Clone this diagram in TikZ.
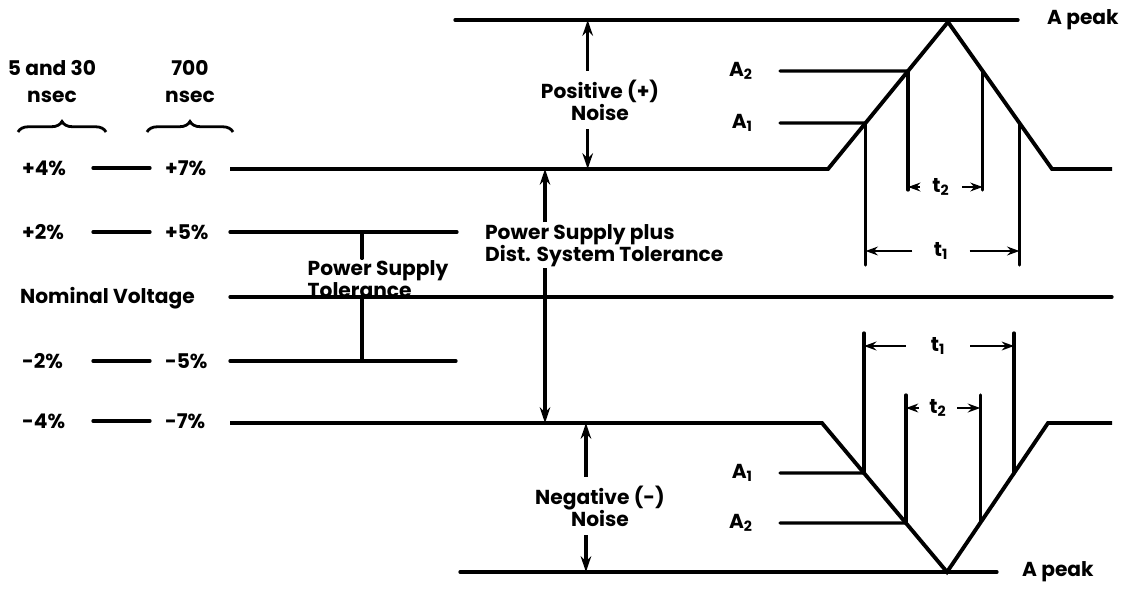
\documentclass[tikz,border=0pt]{standalone}
\usepackage{fontspec}
\setmainfont{Poppins}
\usetikzlibrary{
    arrows.meta,
    calc,
    positioning,
    decorations.pathreplacing
}

\tikzset{
    lvl/.style={line width=1.9pt, line cap=round},
    pulse/.style={line width=2.2pt, line join=miter},
    lab/.style={font=\bfseries\fontsize{11.5}{12.5}\selectfont, inner sep=1pt},
    dimarrow/.style={line width=1.7pt, -{Stealth[length=7pt,width=5pt]}},
    bigarrow/.style={line width=2pt, -{Stealth[length=9pt,width=6pt]}},
}

\begin{document}
\begin{tikzpicture}[x=0.02cm,y=-0.02cm]
\useasboundingbox (0,0) rectangle (1126,592);

% Column heads
\node[lab] (h1) at (52,68) {5 and 30};
\node[lab] (h1b) at (52,97) {nsec};
\node[lab] (h2) at (190,68) {700};
\node[lab] (h2b) at (190,97) {nsec};
\draw[line width=1.6pt, decorate, decoration={brace, amplitude=6pt}] (18,132) -- (106,132);
\draw[line width=1.6pt, decorate, decoration={brace, amplitude=6pt}] (147,132) -- (233,132);

% Row labels
\node[lab, anchor=west] (p4) at (20,168) {+4\%};
\node[lab, anchor=west] (p7) at (163,168) {+7\%};
\node[lab, anchor=west] (p2) at (20,232) {+2\%};
\node[lab, anchor=west] (p5) at (163,232) {+5\%};
\node[lab, anchor=west] (nom) at (18,298) {Nominal Voltage};
\node[lab, anchor=west] (m2) at (20,361) {-2\%};
\node[lab, anchor=west] (m5) at (163,361) {-5\%};
\node[lab, anchor=west] (m4) at (20,421) {-4\%};
\node[lab, anchor=west] (m7) at (163,421) {-7\%};
\foreach \y in {168,232,361,421}
    \draw[lvl] (93,\y) -- (150,\y);

% Levels
\coordinate (top) at (455,20);
\coordinate (bot) at (460,572);
\draw[lvl] (top) -- (1018,20);
\node[lab, anchor=west] (apk1) at (1045,20) {A peak};
\draw[lvl] (230,232) -- (457,232);
\draw[lvl] (230,297) -- (1112,297);
\draw[lvl] (230,361) -- (456,361);
\draw[lvl] (bot) -- (997,572);
\node[lab, anchor=west] (apk2) at (1020,572) {A peak};

% Positive pulse
\coordinate (ps) at (828,169);
\coordinate (pk) at (948,22);
\coordinate (pe) at (1052,169);
\draw[pulse] (230,169) -- (ps) -- (pk) -- (pe) -- (1112,169);
\coordinate (ta1l) at ($(ps)!0.313!(pk)$);
\coordinate (ta2l) at ($(ps)!0.667!(pk)$);
\coordinate (ta2r) at ($(pk)!0.333!(pe)$);
\coordinate (ta1r) at ($(pk)!0.687!(pe)$);
\node[lab, anchor=east] (a1t) at (755,123) {A\textsubscript{1}};
\node[lab, anchor=east] (a2t) at (755,71) {A\textsubscript{2}};
\draw[lvl, shorten <=0.5cm] (a1t.east) -- (ta1l);
\draw[lvl, shorten <=0.5cm] (a2t.east) -- (ta2l);
\coordinate (t1y) at (0,265);
\coordinate (t2y) at (0,190);
\foreach \p in {ta1l,ta1r}
    \draw[lvl] (\p) -- (\p |- t1y);
\foreach \p in {ta2l,ta2r}
    \draw[lvl] (\p) -- (\p |- t2y);
\node[lab, inner xsep=12pt] (t1t) at (941,251) {t\textsubscript{1}};
\node[lab, inner xsep=7pt] (t2t) at (941,187) {t\textsubscript{2}};
\draw[dimarrow] (t1t.west) -- (t1t.west -| ta1l);
\draw[dimarrow] (t1t.east) -- (t1t.east -| ta1r);
\draw[dimarrow] (t2t.west) -- (t2t.west -| ta2l);
\draw[dimarrow] (t2t.east) -- (t2t.east -| ta2r);

% Negative pulse
\coordinate (ns) at (822,423);
\coordinate (nk) at (947,572);
\coordinate (ne) at (1048,423);
\draw[pulse] (230,423) -- (ns) -- (nk) -- (ne) -- (1112,423);
\coordinate (ba1l) at ($(ns)!0.336!(nk)$);
\coordinate (ba2l) at ($(ns)!0.671!(nk)$);
\coordinate (ba2r) at ($(nk)!0.329!(ne)$);
\coordinate (ba1r) at ($(nk)!0.664!(ne)$);
\node[lab, anchor=east] (a1b) at (755,473) {A\textsubscript{1}};
\node[lab, anchor=east] (a2b) at (755,523) {A\textsubscript{2}};
\draw[lvl, shorten <=0.5cm] (a1b.east) -- (ba1l);
\draw[lvl, shorten <=0.5cm] (a2b.east) -- (ba2l);
\coordinate (b1y) at (0,333);
\coordinate (b2y) at (0,395);
\foreach \p in {ba1l,ba1r}
    \draw[lvl] (\p) -- (\p |- b1y);
\foreach \p in {ba2l,ba2r}
    \draw[lvl] (\p) -- (\p |- b2y);
\node[lab, inner xsep=14pt] (t1b) at (938,346) {t\textsubscript{1}};
\node[lab, inner xsep=6pt] (t2b) at (938,408) {t\textsubscript{2}};
\draw[dimarrow] (t1b.west) -- (t1b.west -| ba1l);
\draw[dimarrow] (t1b.east) -- (t1b.east -| ba1r);
\draw[dimarrow] (t2b.west) -- (t2b.west -| ba2l);
\draw[dimarrow] (t2b.east) -- (t2b.east -| ba2r);

% Noise arrows
\node[lab, align=center] (pn) at (600,100) {Positive (+)\\Noise};
\draw[bigarrow, shorten <=4pt] ([xshift=-7pt]pn.north) -- ([xshift=-7pt]pn.north |- top);
\draw[bigarrow, shorten <=4pt] ([xshift=-7pt]pn.south) -- ([xshift=-7pt]pn.south |- ps);
\node[lab, align=center] (nn) at (600,506) {Negative (-)\\Noise};
\draw[bigarrow, shorten <=4pt] ([xshift=-8pt]nn.north) -- ([xshift=-8pt]nn.north |- ns);
\draw[bigarrow, shorten <=4pt] ([xshift=-8pt]nn.south) -- ([xshift=-8pt]nn.south |- bot);

% Power supply plus distribution tolerance
\node[lab, align=left, anchor=north west] (psd) at (483,222) {Power Supply plus\\Dist. System Tolerance};
\coordinate (psx) at (545,0);
\draw[bigarrow] (psx |- psd.north) -- (psx |- ps);
\draw[bigarrow] (psx |- psd.south) -- (psx |- ns);

% Power supply tolerance
\node[lab, align=left] (pst) at (378,279) {Power Supply\\Tolerance};
\coordinate (ptx) at (362,0);
\draw[lvl] (ptx |- 0,232) -- (ptx |- pst.north);
\draw[lvl] (ptx |- 0,297) -- (ptx |- 0,361);

\end{tikzpicture}
\end{document}
